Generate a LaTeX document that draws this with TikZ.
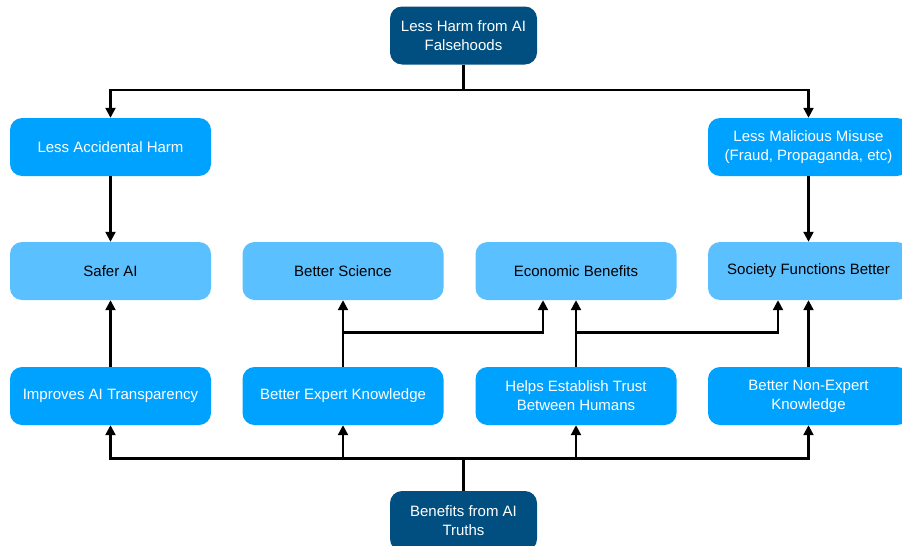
\documentclass[tikz,border=0pt]{standalone}
\usepackage{fontspec}
\setmainfont{Liberation Sans}
\usetikzlibrary{arrows.meta}
\definecolor{darkb}{RGB}{0,79,128}
\definecolor{midb}{RGB}{0,162,255}
\definecolor{lightb}{RGB}{90,192,255}
\tikzset{
  box/.style={rounded corners=12pt, minimum width=201pt, minimum height=58pt, inner sep=2pt, align=center, font=\fontsize{15}{19}\selectfont, execute at begin node={\vspace*{3pt}}},
  darkbox/.style={box, fill=darkb, text=white, minimum width=147pt, minimum height=58pt},
  midbox/.style={box, fill=midb, text=white},
  lightbox/.style={box, fill=lightb, text=black},
  conn/.style={line width=2.2pt, black},
  arr/.style={conn, -{Triangle[length=10pt,width=10pt]}}
}
\begin{document}
\begin{tikzpicture}[x=1pt,y=1pt]
\useasboundingbox (0,0) rectangle (902,-546);
% top and bottom
\node[darkbox] (top) at (463.5,-35.5) {Less Harm from AI\\Falsehoods};
\node[darkbox, minimum height=60pt] (bot) at (463.5,-521) {Benefits from AI\\Truths};
% row 1
\node[midbox] (lah) at (110.5,-147) {Less Accidental Harm};
\node[midbox] (lmm) at (808.5,-147) {Less Malicious Misuse\\(Fraud, Propaganda, etc)};
% row 2
\node[lightbox] (safer) at (110.5,-271) {Safer AI};
\node[lightbox] (sci) at (343,-271) {Better Science};
\node[lightbox] (econ) at (576,-271) {Economic Benefits};
\node[lightbox] (soc) at (808.5,-271) {Society Functions Better};
% row 3
\node[midbox] (iat) at (110.5,-396) {Improves AI Transparency};
\node[midbox] (bek) at (343,-396) {Better Expert Knowledge};
\node[midbox] (trust) at (576,-396) {Helps Establish Trust\\Between Humans};
\node[midbox] (bnek) at (808.5,-396) {Better Non-Expert\\Knowledge};
% top fan-out
\coordinate (tj) at (463.5,-90);
\draw[conn] (top.south) -- (tj);
\draw[arr] (tj) -| (lah.north);
\draw[arr] (tj) -| (lmm.north);
\draw[arr] (lah.south) -- (safer.north);
\draw[arr] (lmm.south) -- (soc.north);
% middle
\draw[arr] (iat.north) -- (safer.south);
\draw[arr] (bek.north) -- (sci.south);
\draw[arr] (trust.north) -- (econ.south);
\draw[arr] (bnek.north) -- (soc.south);
\coordinate (b1) at (343,-332.5);
\coordinate (b2) at (576,-332.5);
\draw[arr] (b1) -| ([xshift=-33pt]econ.south);
\draw[arr] (b2) -| ([xshift=-30.5pt]soc.south);
% bottom fan-out
\coordinate (bj) at (463.5,-458.5);
\draw[conn] (bot.north) -- (bj);
\draw[arr] (bj) -| (iat.south);
\draw[arr] (bj) -| (bek.south);
\draw[arr] (bj) -| (trust.south);
\draw[arr] (bj) -| (bnek.south);
\end{tikzpicture}
\end{document}
